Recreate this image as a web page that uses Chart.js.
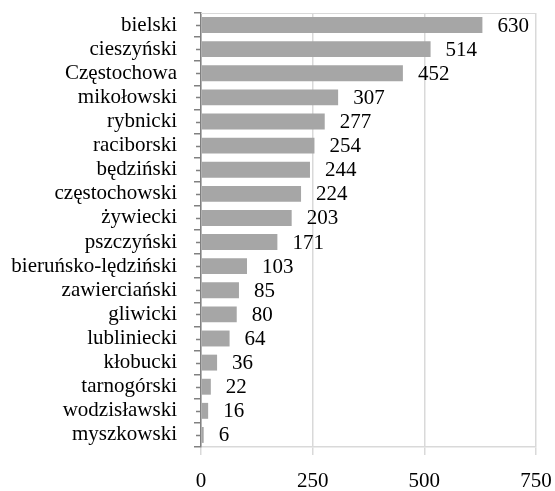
<!DOCTYPE html>
<html>
<head>
<meta charset="utf-8">
<script src="https://cdn.jsdelivr.net/npm/chart.js@4/dist/chart.umd.min.js"></script>
<style>
  html, body { margin: 0; padding: 0; background: #fff; }
  #wrap { width: 555px; height: 491px; position: relative; }
</style>
</head>
<body>
<div id="wrap"><canvas id="bar-chart"></canvas></div>
<script>
const barChart = document.getElementById("bar-chart");

const counties = ["bielski", "cieszyński", "Częstochowa", "mikołowski", "rybnicki", "raciborski", "będziński", "częstochowski", "żywiecki", "pszczyński", "bieruńsko-lędziński", "zawierciański", "gliwicki", "lubliniecki", "kłobucki", "tarnogórski", "wodzisławski", "myszkowski"];
const values = [630, 514, 452, 307, 277, 254, 244, 224, 203, 171, 103, 85, 80, 64, 36, 22, 16, 6];
const xTicks = [0, 250, 500, 750];

const FONT = "'Liberation Serif', 'Times New Roman', serif";

// top frame line, minor ticks at category centres, value labels
const extras = {
  id: 'extras',
  beforeDatasetsDraw(chart) {
    const { ctx, chartArea } = chart;
    const yScale = chart.scales.y;
    ctx.save();
    ctx.strokeStyle = '#d9d9d9';
    ctx.lineWidth = 1;
    ctx.beginPath();
    ctx.moveTo(chartArea.left, chartArea.top + 0.5);
    ctx.lineTo(chartArea.right, chartArea.top + 0.5);
    ctx.stroke();
    ctx.strokeStyle = '#808080';
    ctx.lineWidth = 1.5;
    ctx.beginPath();
    counties.forEach((c, i) => {
      const y = Math.round(yScale.getPixelForValue(i)) + 0.5;
      ctx.moveTo(chartArea.left - 5, y);
      ctx.lineTo(chartArea.left, y);
    });
    ctx.stroke();
    ctx.restore();
  },
  afterDatasetsDraw(chart) {
    const { ctx } = chart;
    const meta = chart.getDatasetMeta(0);
    ctx.save();
    ctx.font = "21px " + FONT;
    ctx.fillStyle = '#000';
    ctx.textAlign = 'left';
    ctx.textBaseline = 'middle';
    meta.data.forEach((bar, i) => {
      ctx.fillText(String(values[i]), bar.x + 15, bar.y + 1);
    });
    ctx.restore();
  }
};

new Chart(barChart, {
  type: 'bar',
  data: {
    labels: counties,
    datasets: [{
      data: values,
      backgroundColor: '#a6a6a6',
      borderWidth: 0,
      barPercentage: 0.66,
      categoryPercentage: 1.0
    }]
  },
  options: {
    indexAxis: 'y',
    responsive: true,
    maintainAspectRatio: false,
    animation: false,
    layout: { padding: { left: 0, right: 19, top: 13, bottom: 0 } },
    plugins: {
      legend: { display: false },
      tooltip: { enabled: false }
    },
    scales: {
      x: {
        min: 0,
        max: 750,
        afterBuildTicks: (scale) => { scale.ticks = xTicks.map(v => ({ value: v })); },
        afterFit: (scale) => {
          scale.height = 44;
          scale.paddingLeft = 0;
          scale.paddingRight = 0;
        },
        grid: {
          color: '#d9d9d9',
          lineWidth: 1.5,
          tickLength: 8,
          tickColor: '#d9d9d9'
        },
        border: { display: true, color: '#d9d9d9', width: 1.5 },
        ticks: {
          color: '#000',
          padding: 14,
          maxRotation: 0,
          font: { family: FONT, size: 21 }
        }
      },
      y: {
        afterFit: (scale) => {
          scale.width = 201;
          scale.paddingTop = 0;
          scale.paddingBottom = 0;
        },
        grid: {
          display: true,
          drawOnChartArea: false,
          offset: true,
          tickLength: 7,
          tickColor: '#808080',
          lineWidth: 1.5
        },
        border: { display: true, color: '#808080', width: 1.5 },
        ticks: {
          color: '#000',
          padding: 17,
          autoSkip: false,
          font: { family: FONT, size: 21 }
        }
      }
    }
  },
  plugins: [extras]
});
</script>
</body>
</html>
